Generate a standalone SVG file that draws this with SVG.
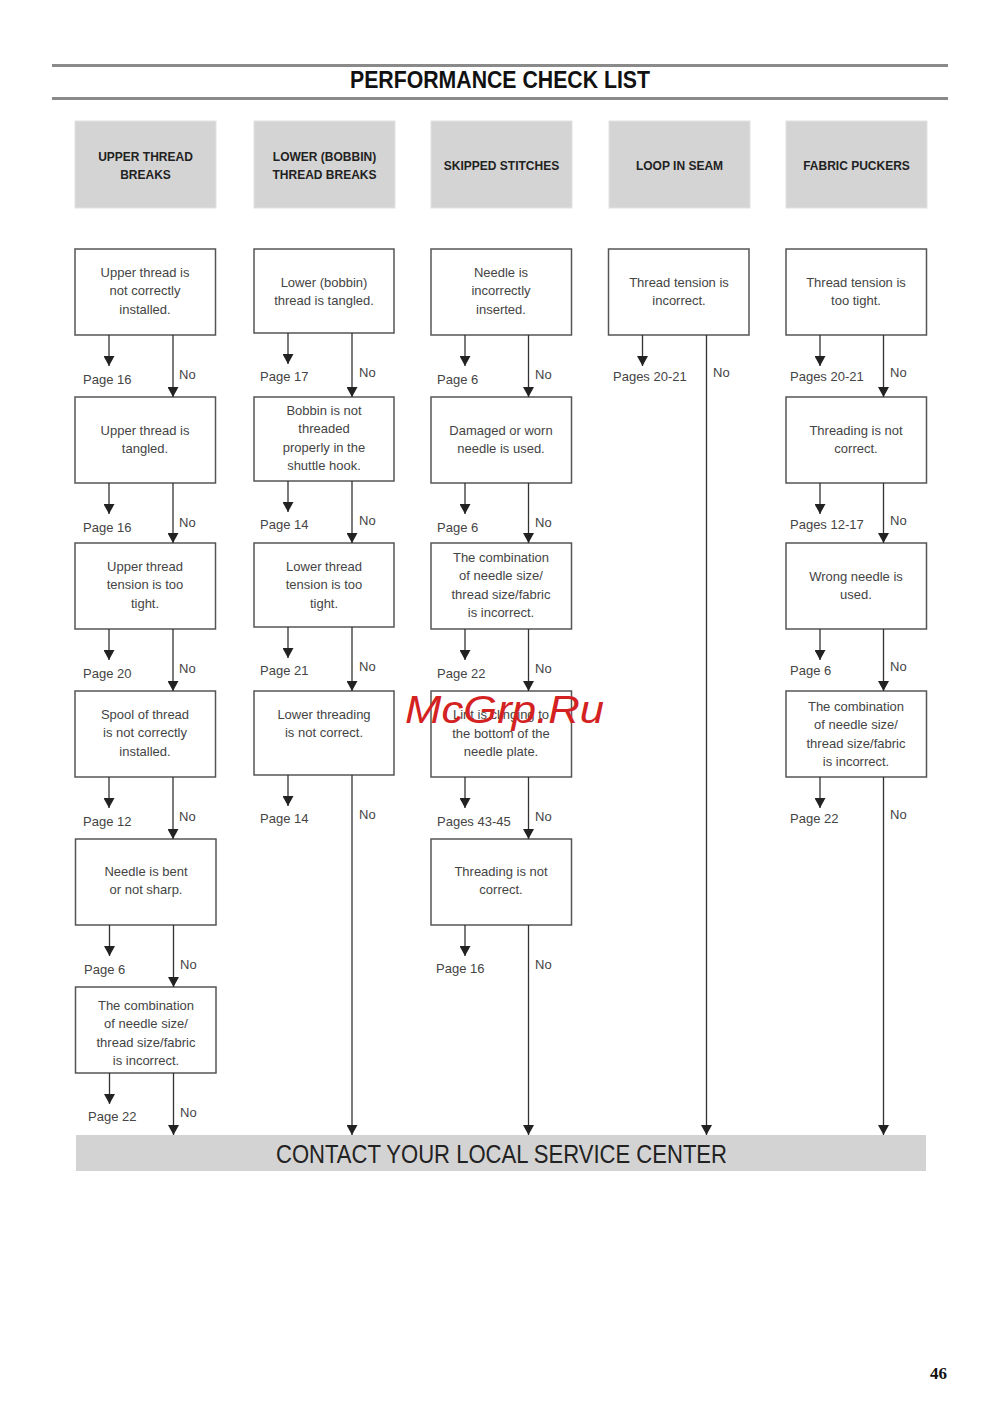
<svg xmlns="http://www.w3.org/2000/svg" width="1000" height="1415" viewBox="0 0 1000 1415">
<style>
.rule{stroke:#8a8a8a;stroke-width:3;fill:none}
.hbox{fill:#d4d4d4;stroke:#e2e2e2;stroke-width:1}
.htxt{font-family:"Liberation Sans",Arial,sans-serif;font-size:12px;font-weight:bold;fill:#222;text-anchor:middle}
.box{fill:#fff;stroke:#555;stroke-width:1.5}
.btxt{font-family:"Liberation Sans",Arial,sans-serif;font-size:13px;fill:#444;text-anchor:middle}
.lbl{font-family:"Liberation Sans",Arial,sans-serif;font-size:13px;fill:#444}
.ln{stroke:#333;stroke-width:1.3;fill:none;marker-end:url(#ah)}
</style>
<defs>
<marker id="ah" viewBox="0 0 10 11" refX="10" refY="5.5" markerWidth="10" markerHeight="11" markerUnits="userSpaceOnUse" orient="auto">
<path d="M0,0 L10,5.5 L0,11 z" fill="#222"/>
</marker>
</defs>
<rect width="1000" height="1415" fill="#fff"/>

<g id="title">
<line class="rule" x1="52" y1="65.5" x2="948" y2="65.5"/>
<line class="rule" x1="52" y1="98.5" x2="948" y2="98.5"/>
<text x="350" y="88" font-family="'Liberation Sans',Arial,sans-serif" font-size="23" font-weight="bold" fill="#111" textLength="300" lengthAdjust="spacingAndGlyphs">PERFORMANCE CHECK LIST</text>
</g>

<g id="h1"><rect class="hbox" x="75" y="121" width="141" height="87"/><text class="htxt" x="145.5" y="161">UPPER THREAD</text><text class="htxt" x="145.5" y="179">BREAKS</text></g>
<g id="h2"><rect class="hbox" x="254" y="121" width="141" height="87"/><text class="htxt" x="324.5" y="161">LOWER (BOBBIN)</text><text class="htxt" x="324.5" y="179">THREAD BREAKS</text></g>
<g id="h3"><rect class="hbox" x="431" y="121" width="141" height="87"/><text class="htxt" x="501.5" y="170">SKIPPED STITCHES</text></g>
<g id="h4"><rect class="hbox" x="609" y="121" width="141" height="87"/><text class="htxt" x="679.5" y="170">LOOP IN SEAM</text></g>
<g id="h5"><rect class="hbox" x="786" y="121" width="141" height="87"/><text class="htxt" x="856.5" y="170">FABRIC PUCKERS</text></g>

<!-- Column 1 -->
<g id="c1b1"><rect class="box" x="75" y="249" width="140.5" height="86"/><text class="btxt" x="145" y="276.5">Upper thread is</text><text class="btxt" x="145" y="295">not correctly</text><text class="btxt" x="145" y="313.5">installed.</text></g>
<g id="c1b2"><rect class="box" x="75" y="397" width="140.5" height="86"/><text class="btxt" x="145" y="434.5">Upper thread is</text><text class="btxt" x="145" y="453">tangled.</text></g>
<g id="c1b3"><rect class="box" x="75" y="543" width="140.5" height="86"/><text class="btxt" x="145" y="570.5">Upper thread</text><text class="btxt" x="145" y="589">tension is too</text><text class="btxt" x="145" y="607.5">tight.</text></g>
<g id="c1b4"><rect class="box" x="75" y="691" width="140.5" height="86"/><text class="btxt" x="145" y="718.5">Spool of thread</text><text class="btxt" x="145" y="737">is not correctly</text><text class="btxt" x="145" y="755.5">installed.</text></g>
<g id="c1b5"><rect class="box" x="75.5" y="839" width="140.5" height="86"/><text class="btxt" x="146" y="875.5">Needle is bent</text><text class="btxt" x="146" y="894">or not sharp.</text></g>
<g id="c1b6"><rect class="box" x="75.5" y="987" width="140.5" height="86"/><text class="btxt" x="146" y="1009.5">The combination</text><text class="btxt" x="146" y="1028">of needle size/</text><text class="btxt" x="146" y="1046.5">thread size/fabric</text><text class="btxt" x="146" y="1065">is incorrect.</text></g>

<!-- Column 2 -->
<g id="c2b1"><rect class="box" x="254" y="249" width="140" height="84"/><text class="btxt" x="324" y="286.5">Lower (bobbin)</text><text class="btxt" x="324" y="305">thread is tangled.</text></g>
<g id="c2b2"><rect class="box" x="254" y="397" width="140" height="84"/><text class="btxt" x="324" y="414.5">Bobbin is not</text><text class="btxt" x="324" y="433">threaded</text><text class="btxt" x="324" y="451.5">properly in the</text><text class="btxt" x="324" y="470">shuttle hook.</text></g>
<g id="c2b3"><rect class="box" x="254" y="543" width="140" height="84"/><text class="btxt" x="324" y="570.5">Lower thread</text><text class="btxt" x="324" y="589">tension is too</text><text class="btxt" x="324" y="607.5">tight.</text></g>
<g id="c2b4"><rect class="box" x="254" y="691" width="140" height="84"/><text class="btxt" x="324" y="718.5">Lower threading</text><text class="btxt" x="324" y="737">is not correct.</text></g>

<!-- Column 3 -->
<g id="c3b1"><rect class="box" x="431" y="249" width="140.5" height="86"/><text class="btxt" x="501" y="276.5">Needle is</text><text class="btxt" x="501" y="295">incorrectly</text><text class="btxt" x="501" y="313.5">inserted.</text></g>
<g id="c3b2"><rect class="box" x="431" y="397" width="140.5" height="86"/><text class="btxt" x="501" y="434.5">Damaged or worn</text><text class="btxt" x="501" y="453">needle is used.</text></g>
<g id="c3b3"><rect class="box" x="431" y="543" width="140.5" height="86"/><text class="btxt" x="501" y="561.5">The combination</text><text class="btxt" x="501" y="580">of needle size/</text><text class="btxt" x="501" y="598.5">thread size/fabric</text><text class="btxt" x="501" y="617">is incorrect.</text></g>
<g id="c3b4"><rect class="box" x="431" y="691" width="140.5" height="86"/><text class="btxt" x="501" y="719">Lint is clinging to</text><text class="btxt" x="501" y="737.5">the bottom of the</text><text class="btxt" x="501" y="756">needle plate.</text></g>
<g id="c3b5"><rect class="box" x="431" y="839" width="140.5" height="86"/><text class="btxt" x="501" y="875.5">Threading is not</text><text class="btxt" x="501" y="894">correct.</text></g>

<!-- Column 4 -->
<g id="c4b1"><rect class="box" x="608.5" y="249" width="140.5" height="86"/><text class="btxt" x="679" y="286.5">Thread tension is</text><text class="btxt" x="679" y="305">incorrect.</text></g>

<!-- Column 5 -->
<g id="c5b1"><rect class="box" x="786" y="249" width="140.5" height="86"/><text class="btxt" x="856" y="286.5">Thread tension is</text><text class="btxt" x="856" y="305">too tight.</text></g>
<g id="c5b2"><rect class="box" x="786" y="397" width="140.5" height="86"/><text class="btxt" x="856" y="434.5">Threading is not</text><text class="btxt" x="856" y="453">correct.</text></g>
<g id="c5b3"><rect class="box" x="786" y="543" width="140.5" height="86"/><text class="btxt" x="856" y="580.5">Wrong needle is</text><text class="btxt" x="856" y="599">used.</text></g>
<g id="c5b4"><rect class="box" x="786" y="691" width="140.5" height="86"/><text class="btxt" x="856" y="710.5">The combination</text><text class="btxt" x="856" y="729">of needle size/</text><text class="btxt" x="856" y="747.5">thread size/fabric</text><text class="btxt" x="856" y="766">is incorrect.</text></g>

<g id="contact">
<rect x="76" y="1135" width="850" height="36" fill="#d3d3d3"/>
<text x="276" y="1163" font-family="'Liberation Sans',Arial,sans-serif" font-size="25" fill="#222" textLength="451" lengthAdjust="spacingAndGlyphs">CONTACT YOUR LOCAL SERVICE CENTER</text>
</g>

<g id="connectors">
<!-- col1 -->
<line class="ln" x1="109" y1="335" x2="109" y2="366"/>
<line class="ln" x1="173" y1="335" x2="173" y2="397"/>
<line class="ln" x1="109" y1="483" x2="109" y2="514"/>
<line class="ln" x1="173" y1="483" x2="173" y2="543"/>
<line class="ln" x1="109" y1="629" x2="109" y2="660"/>
<line class="ln" x1="173" y1="629" x2="173" y2="691"/>
<line class="ln" x1="109" y1="777" x2="109" y2="808"/>
<line class="ln" x1="173" y1="777" x2="173" y2="839"/>
<line class="ln" x1="109.5" y1="925" x2="109.5" y2="956"/>
<line class="ln" x1="173.5" y1="925" x2="173.5" y2="987"/>
<line class="ln" x1="109.5" y1="1073" x2="109.5" y2="1104"/>
<line class="ln" x1="173.5" y1="1073" x2="173.5" y2="1135"/>
<!-- col2 -->
<line class="ln" x1="288" y1="333" x2="288" y2="364"/>
<line class="ln" x1="352" y1="333" x2="352" y2="397"/>
<line class="ln" x1="288" y1="481" x2="288" y2="512"/>
<line class="ln" x1="352" y1="481" x2="352" y2="543"/>
<line class="ln" x1="288" y1="627" x2="288" y2="658"/>
<line class="ln" x1="352" y1="627" x2="352" y2="691"/>
<line class="ln" x1="288" y1="775" x2="288" y2="806"/>
<line class="ln" x1="352" y1="775" x2="352" y2="1135"/>
<!-- col3 -->
<line class="ln" x1="465" y1="335" x2="465" y2="366"/>
<line class="ln" x1="528.5" y1="335" x2="528.5" y2="397"/>
<line class="ln" x1="465" y1="483" x2="465" y2="514"/>
<line class="ln" x1="528.5" y1="483" x2="528.5" y2="543"/>
<line class="ln" x1="465" y1="629" x2="465" y2="660"/>
<line class="ln" x1="528.5" y1="629" x2="528.5" y2="691"/>
<line class="ln" x1="465" y1="777" x2="465" y2="808"/>
<line class="ln" x1="528.5" y1="777" x2="528.5" y2="839"/>
<line class="ln" x1="465" y1="925" x2="465" y2="956"/>
<line class="ln" x1="528.5" y1="925" x2="528.5" y2="1135"/>
<!-- col4 -->
<line class="ln" x1="642.5" y1="335" x2="642.5" y2="366"/>
<line class="ln" x1="706.5" y1="335" x2="706.5" y2="1135"/>
<!-- col5 -->
<line class="ln" x1="820" y1="335" x2="820" y2="366"/>
<line class="ln" x1="883.5" y1="335" x2="883.5" y2="397"/>
<line class="ln" x1="820" y1="483" x2="820" y2="514"/>
<line class="ln" x1="883.5" y1="483" x2="883.5" y2="543"/>
<line class="ln" x1="820" y1="629" x2="820" y2="660"/>
<line class="ln" x1="883.5" y1="629" x2="883.5" y2="691"/>
<line class="ln" x1="820" y1="777" x2="820" y2="808"/>
<line class="ln" x1="883.5" y1="777" x2="883.5" y2="1135"/>

<!-- labels -->
<text class="lbl" x="83" y="383.5">Page 16</text><text class="lbl" x="179" y="378.5">No</text>
<text class="lbl" x="83" y="531.5">Page 16</text><text class="lbl" x="179" y="526.5">No</text>
<text class="lbl" x="83" y="677.5">Page 20</text><text class="lbl" x="179" y="672.5">No</text>
<text class="lbl" x="83" y="825.5">Page 12</text><text class="lbl" x="179" y="820.5">No</text>
<text class="lbl" x="84" y="973.5">Page 6</text><text class="lbl" x="180" y="968.5">No</text>
<text class="lbl" x="88" y="1120.5">Page 22</text><text class="lbl" x="180" y="1116.5">No</text>

<text class="lbl" x="260" y="380.5">Page 17</text><text class="lbl" x="359" y="376.5">No</text>
<text class="lbl" x="260" y="528.5">Page 14</text><text class="lbl" x="359" y="524.5">No</text>
<text class="lbl" x="260" y="674.5">Page 21</text><text class="lbl" x="359" y="670.5">No</text>
<text class="lbl" x="260" y="822.5">Page 14</text><text class="lbl" x="359" y="818.5">No</text>

<text class="lbl" x="437" y="383.5">Page 6</text><text class="lbl" x="535" y="378.5">No</text>
<text class="lbl" x="437" y="531.5">Page 6</text><text class="lbl" x="535" y="526.5">No</text>
<text class="lbl" x="437" y="677.5">Page 22</text><text class="lbl" x="535" y="672.5">No</text>
<text class="lbl" x="437" y="825.5">Pages 43-45</text><text class="lbl" x="535" y="820.5">No</text>
<text class="lbl" x="436" y="972.5">Page 16</text><text class="lbl" x="535" y="968.5">No</text>

<text class="lbl" x="613" y="380.5">Pages 20-21</text><text class="lbl" x="713" y="376.5">No</text>

<text class="lbl" x="790" y="380.5">Pages 20-21</text><text class="lbl" x="890" y="376.5">No</text>
<text class="lbl" x="790" y="528.5">Pages 12-17</text><text class="lbl" x="890" y="524.5">No</text>
<text class="lbl" x="790" y="674.5">Page 6</text><text class="lbl" x="890" y="670.5">No</text>
<text class="lbl" x="790" y="822.5">Page 22</text><text class="lbl" x="890" y="818.5">No</text>
</g>

<text x="405" y="723" font-family="'Liberation Sans',Arial,sans-serif" font-size="39" font-style="italic" fill="#d42222" textLength="199" lengthAdjust="spacingAndGlyphs">McGrp.Ru</text>

<text x="947" y="1379" text-anchor="end" font-family="'Liberation Serif','Times New Roman',serif" font-size="17" font-weight="bold" fill="#111">46</text>
</svg>
